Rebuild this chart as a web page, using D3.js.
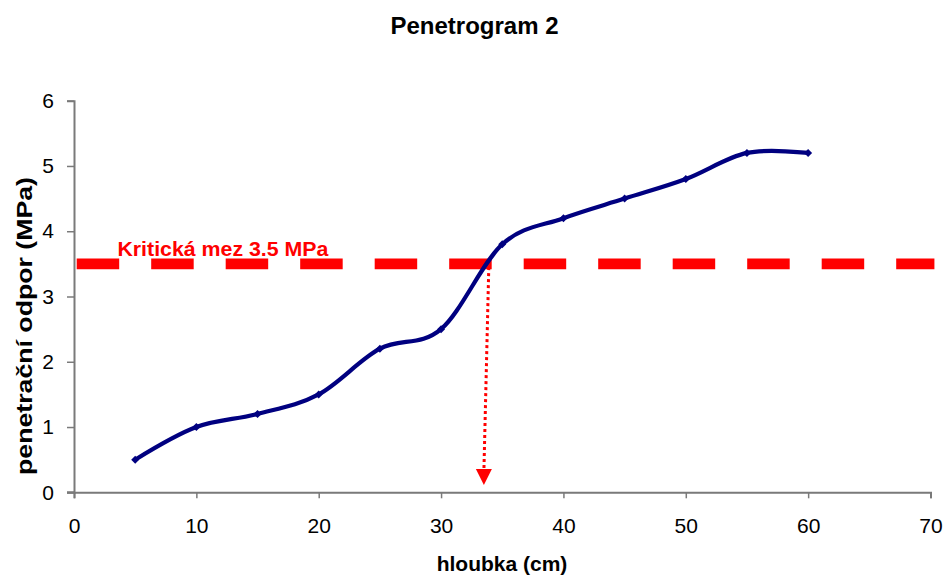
<!DOCTYPE html>
<html>
<head>
<meta charset="utf-8">
<script src="https://cdn.jsdelivr.net/npm/d3@7"></script>
<style>
  html, body { margin: 0; padding: 0; background: #fff; }
  svg { display: block; }
  text { font-family: "Liberation Sans", Arial, sans-serif; }
</style>
</head>
<body>
<svg id="chart" width="947" height="576"></svg>
<script>
// ---- data ----
const depth = [5, 10, 15, 20, 25, 30, 35, 40, 45, 50, 55, 60];
const resistance = [0.5, 1.0, 1.2, 1.5, 2.2, 2.5, 3.8, 4.2, 4.5, 4.8, 5.2, 5.2];
const xTicks = [0, 10, 20, 30, 40, 50, 60, 70];
const yTicks = [0, 1, 2, 3, 4, 5, 6];
const criticalValue = 3.5;
const criticalX = [0.22, 70.32];
const arrowFrom = [33.9, 3.45];
const arrowTo = [33.5, 0.11];
const titleText = "Penetrogram 2";
const xTitle = "hloubka (cm)";
const yTitle = "penetrační odpor (MPa)";
const critLabel = "Kritická mez 3.5 MPa";

// ---- layout ----
const svg = d3.select("#chart");
const x = d3.scaleLinear().domain([0, 70]).range([74, 930.5]);
const y = d3.scaleLinear().domain([0, 6]).range([492.3, 100.7]);
const axisColor = "#7a7a7a";

// axes
const xAxis = svg.append("g").attr("transform", `translate(0,${y(0)})`)
  .call(d3.axisBottom(x).tickValues(xTicks).tickSize(6).tickPadding(20).tickFormat(d3.format("d")));
const yAxis = svg.append("g").attr("transform", `translate(${x(0)},0)`)
  .call(d3.axisLeft(y).tickValues(yTicks).tickSize(7).tickPadding(13).tickFormat(d3.format("d")));
[xAxis, yAxis].forEach(g => {
  g.select(".domain").attr("stroke", axisColor).attr("stroke-width", 2);
  g.selectAll(".tick line").attr("stroke", axisColor).attr("stroke-width", 1.5);
  g.selectAll(".tick text").attr("fill", "#000").attr("font-size", 21)
    .attr("font-family", "'Liberation Sans', Arial, sans-serif");
});
// extend x axis line to the left under the y tick at 0
svg.append("line").attr("x1", x(0) - 7).attr("x2", x(0)).attr("y1", y(0)).attr("y2", y(0))
  .attr("stroke", axisColor).attr("stroke-width", 2);

// critical dashed line
svg.append("line")
  .attr("x1", x(criticalX[0])).attr("x2", x(criticalX[1]))
  .attr("y1", y(criticalValue)).attr("y2", y(criticalValue))
  .attr("stroke", "#ff0000").attr("stroke-width", 10.7)
  .attr("stroke-dasharray", "42.5,32");

svg.append("text").attr("x", x(3.55)).attr("y", y(criticalValue) - 8)
  .attr("fill", "#ff0000").attr("font-weight", "bold").attr("font-size", 20)
  .attr("textLength", 211).attr("lengthAdjust", "spacingAndGlyphs")
  .text(critLabel);

// dotted arrow
svg.append("line")
  .attr("x1", x(arrowFrom[0])).attr("y1", y(arrowFrom[1]))
  .attr("x2", x(arrowTo[0])).attr("y2", y(arrowTo[1]) - 14)
  .attr("stroke", "#ff0000").attr("stroke-width", 3)
  .attr("stroke-dasharray", "3,3");
{
  const tx = x(arrowTo[0]), ty = y(arrowTo[1]);
  svg.append("path")
    .attr("d", `M${tx},${ty} L${tx - 8},${ty - 16} L${tx + 8},${ty - 16} Z`)
    .attr("fill", "#ff0000");
}

// series line
const pts = depth.map((d, i) => [d, resistance[i]]);
const line = d3.line().x(d => x(d[0])).y(d => y(d[1])).curve(d3.curveCardinal.tension(0));
svg.append("path").datum(pts).attr("d", line)
  .attr("fill", "none").attr("stroke", "#000080").attr("stroke-width", 4.2)
  .attr("stroke-linejoin", "round");
svg.selectAll(".mk").data(pts).enter().append("path")
  .attr("class", "mk")
  .attr("transform", d => `translate(${x(d[0])},${y(d[1])})`)
  .attr("d", "M0,-4 L4,0 L0,4 L-4,0 Z")
  .attr("fill", "#000080");

// titles
svg.append("text").attr("x", 474.5).attr("y", 34).attr("text-anchor", "middle")
  .attr("font-weight", "bold").attr("font-size", 24).text(titleText);
svg.append("text").attr("x", 502).attr("y", 571).attr("text-anchor", "middle")
  .attr("font-weight", "bold").attr("font-size", 21).text(xTitle);
svg.append("text").attr("transform", "translate(32,326) rotate(-90)")
  .attr("text-anchor", "middle")
  .attr("font-weight", "bold").attr("font-size", 22)
  .attr("textLength", 298).attr("lengthAdjust", "spacingAndGlyphs")
  .text(yTitle);
</script>
</body>
</html>
